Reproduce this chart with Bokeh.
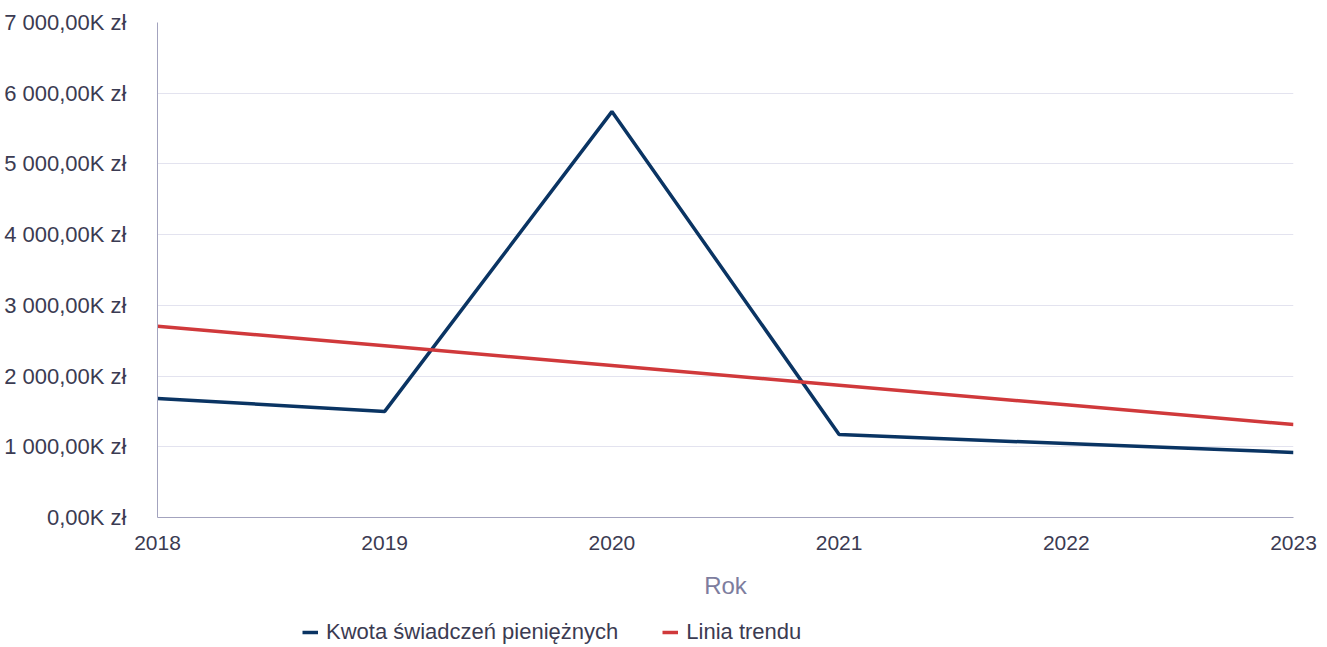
from bokeh.plotting import figure
from bokeh.models import FixedTicker, Legend, LegendItem, ColumnDataSource, Range1d
from bokeh.layouts import column
from bokeh.embed import file_html
from bokeh.resources import INLINE

years = [2018, 2019, 2020, 2021, 2022, 2023]
kwota = [1683, 1500, 5740, 1175, 1045, 920]          # tys. zł
trend = [2706, 2428, 2150, 1871, 1593, 1315]          # tys. zł
y_ticks = [0, 1000, 2000, 3000, 4000, 5000, 6000, 7000]
y_tick_labels = ["0,00K zł", "1 000,00K zł", "2 000,00K zł", "3 000,00K zł",
                 "4 000,00K zł", "5 000,00K zł", "6 000,00K zł", "7 000,00K zł"]
x_label = "Rok"
series_names = ["Kwota świadczeń pieniężnych", "Linia trendu"]
series_colors = ["#0a3463", "#d0393b"]

FONT = "Liberation Sans"
TXT = "#3b3b52"

src = ColumnDataSource(dict(x=years, k=kwota, t=trend))

W, H, LH = 1320, 605, 40
p = figure(width=W, height=H, output_backend="svg", toolbar_location=None,
           x_range=Range1d(2018, 2023), y_range=Range1d(0, 7000),
           min_border_left=157, min_border_right=W - 1293, min_border_top=22,
           min_border_bottom=H - 517)
p.outline_line_color = None
p.background_fill_color = "white"

p.xaxis.ticker = FixedTicker(ticks=years)
p.xaxis.major_label_overrides = {y: str(y) for y in years}
p.yaxis.ticker = FixedTicker(ticks=y_ticks)
p.yaxis.major_label_overrides = {t: l for t, l in zip(y_ticks, y_tick_labels)}

for ax in (p.xaxis[0], p.yaxis[0]):
    ax.axis_line_color = "#a3a3be"
    ax.axis_line_width = 1
    ax.major_tick_line_color = None
    ax.minor_tick_line_color = None
    ax.major_label_text_font = FONT
    ax.major_label_text_color = TXT

p.yaxis.major_label_text_font_size = "22px"
p.xaxis.major_label_text_font_size = "21px"
p.yaxis.major_label_standoff = 25
p.xaxis.major_label_standoff = 12
p.xaxis.axis_label = x_label
p.xaxis.axis_label_text_font = FONT
p.xaxis.axis_label_text_font_size = "24px"
p.xaxis.axis_label_text_font_style = "normal"
p.xaxis.axis_label_text_color = "#7d7d9e"
p.xaxis.axis_label_standoff = 19

p.xgrid.grid_line_color = None
p.ygrid.ticker = FixedTicker(ticks=y_ticks[1:-1])
p.ygrid.grid_line_color = "#e3e3ef"
p.ygrid.grid_line_width = 1

p.line("x", "k", source=src, line_color=series_colors[0], line_width=3.5)
p.line("x", "t", source=src, line_color=series_colors[1], line_width=3.5)

# legend strip below the chart (its own small figure; the swatch renderers sit outside its range)
lf = figure(width=W, height=LH, output_backend="svg", toolbar_location=None,
            x_range=Range1d(0, 1), y_range=Range1d(0, 1),
            min_border_left=0, min_border_right=0, min_border_top=0, min_border_bottom=0)
lf.axis.visible = False
lf.grid.visible = False
lf.outline_line_color = None
off = ColumnDataSource(dict(x=[-10, -9], y=[-10, -10]))
d1 = lf.line("x", "y", source=off, line_color=series_colors[0], line_width=3.5)
d2 = lf.line("x", "y", source=off, line_color=series_colors[1], line_width=3.5)

legend = Legend(items=[LegendItem(label=series_names[0], renderers=[d1]),
                       LegendItem(label=series_names[1], renderers=[d2])],
                orientation="horizontal", location=(145, 0),
                label_text_font=FONT, label_text_font_size="22px", label_text_color=TXT,
                glyph_width=16, glyph_height=20, label_standoff=8, spacing=44,
                padding=0, margin=0, border_line_color=None, background_fill_alpha=0)
lf.add_layout(legend, "center")

open("out.html", "w").write(file_html(column(p, lf, spacing=0), INLINE))
